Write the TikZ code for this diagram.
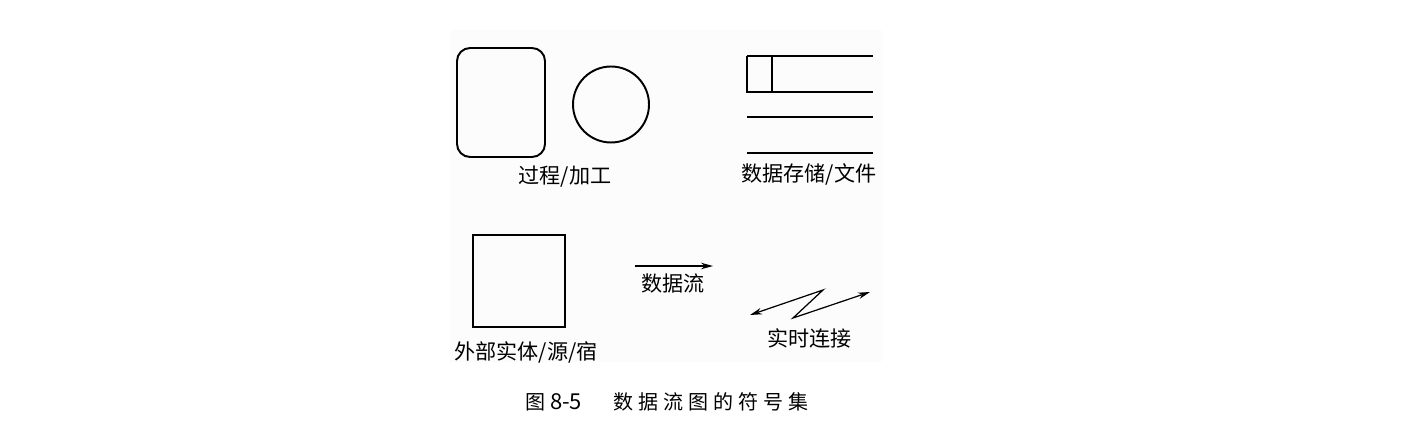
\documentclass[tikz,border=0pt]{standalone}
\usepackage{fontspec}
\newfontfamily\cjk{Noto Sans CJK SC}
\newfontfamily\cjkcap[LetterSpace=25]{Noto Sans CJK SC}
\usetikzlibrary{positioning, arrows.meta}

\begin{document}
\begin{tikzpicture}[x=0.02cm, y=-0.02cm,
    sym/.style={draw, line width=1.1pt, inner sep=0pt},
    symtext/.style={font=\cjk\fontsize{12}{14}\selectfont, inner sep=0pt},
    flow/.style={-{Stealth[length=2.4mm, width=1.3mm]}, line width=0.7pt},
    rtflow/.style={{Stealth[length=2.4mm, width=1.3mm]}-{Stealth[length=2.4mm, width=1.3mm]}, line width=0.7pt},
]
\useasboundingbox (0,0) rectangle (1422,442);
\fill[gray!2] (450,30) rectangle (882,362);

% process
\node[sym, rounded corners=0.26cm, minimum width=1.76cm, minimum height=2.18cm] (process) at (501,102.5) {};
\node[sym, circle, minimum size=1.52cm] (processc) at (611,104.5) {};
\node[symtext] (processlbl) at (565,177) {过程/加工};

% data store
\draw[line width=1.1pt] (747,56) -- (873,56);
\draw[line width=1.1pt] (747,56) -- (747,92) -- (873,92);
\draw[line width=1.1pt] (772,56) -- (772,92);
\draw[line width=1.1pt] (747,117) -- (873,117);
\draw[line width=1.1pt] (747,153) -- (873,153);
\node[symtext] (storelbl) at (809,174) {数据存储/文件};

% external entity
\node[sym, minimum size=1.84cm] (entity) at (519,281) {};
\node[symtext] (entitylbl) at (526,352) {外部实体/源/宿};

% data flow
\coordinate (dfa) at (635,266);
\coordinate (dfb) at (713,266);
\draw[flow] (dfa) -- (dfb);
\node[symtext] (dflbl) at (673,284) {数据流};

% real-time link
\coordinate (rta) at (750,315);
\coordinate (rtb) at (823,290);
\coordinate (rtc) at (793,318);
\coordinate (rtd) at (870,292);
\draw[rtflow] (rta) -- (rtb) -- (rtc) -- (rtd);
\node[symtext] (rtlbl) at (809.5,338) {实时连接};

\node[font=\cjk\fontsize{11.4}{14}\selectfont, inner sep=0pt] (caption) at (667,402) {图 {\fontsize{12.5}{14}\selectfont 8-5}\hspace{0.62cm}{\cjkcap 数据流图的符号集}};

\end{tikzpicture}
\end{document}
